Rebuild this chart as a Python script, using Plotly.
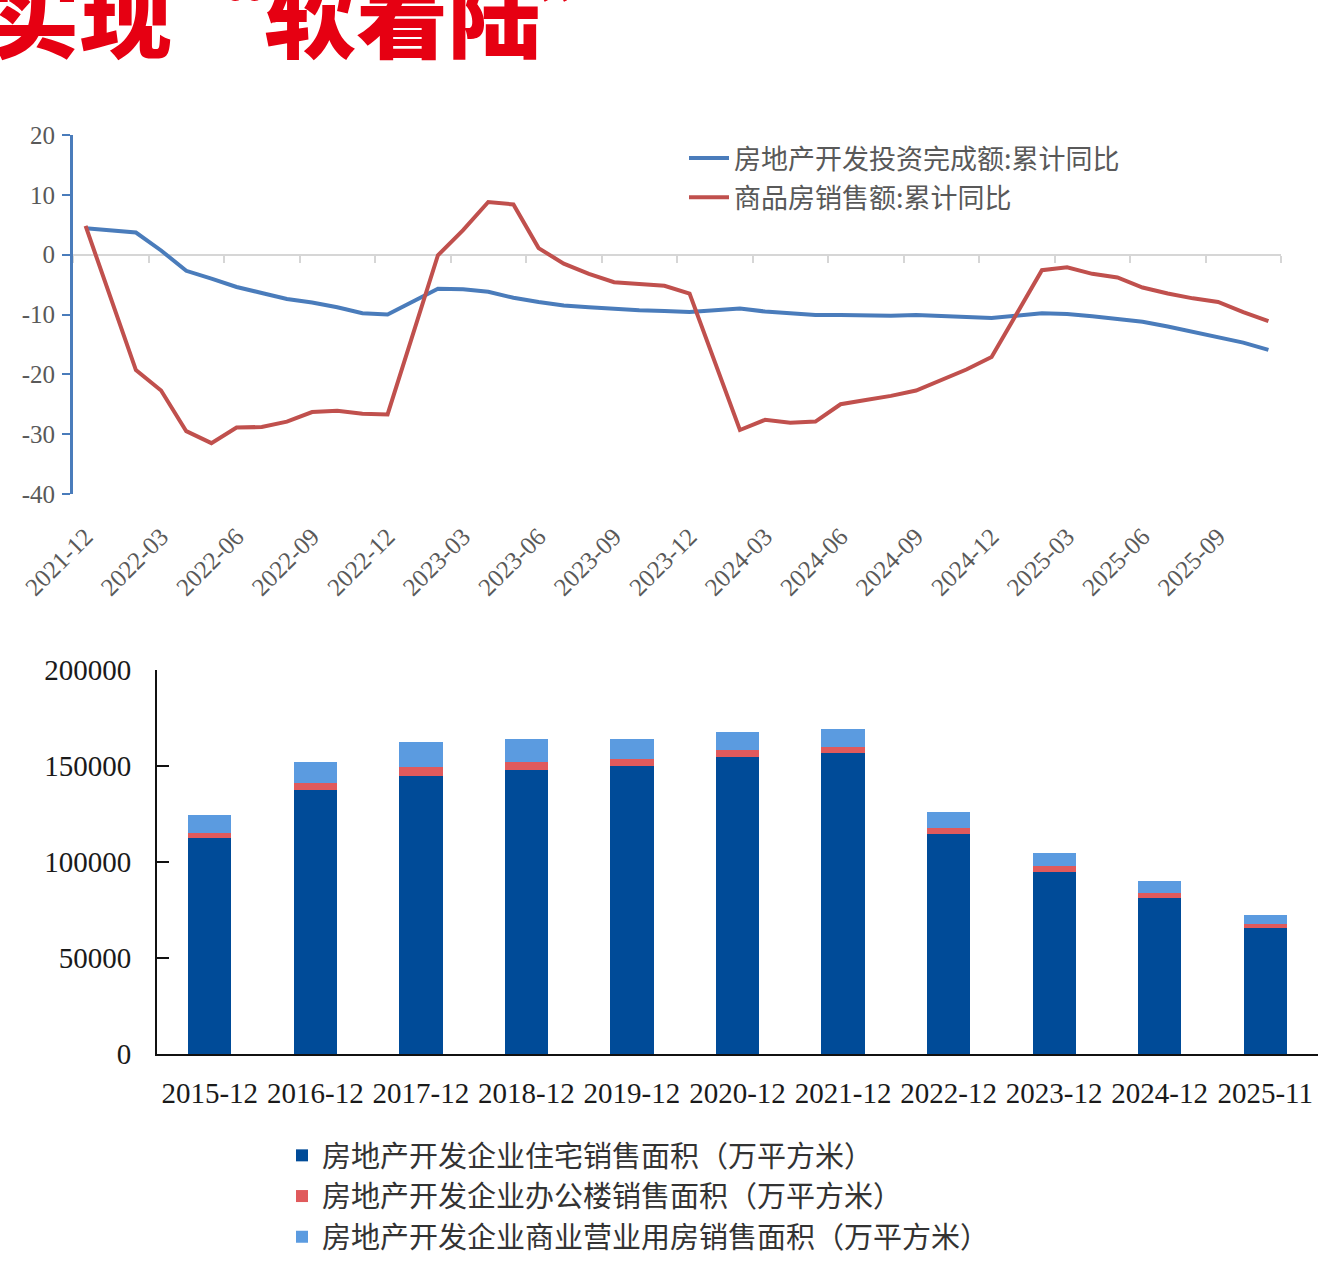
import plotly.graph_objects as go

W, H = 1344, 1268

# ---------------- data: line chart ----------------
months = ["2021-12"] + [f"{y}-{m:02d}" for y in (2022, 2023, 2024, 2025) for m in range(1, 13)]
months = months[:48]  # 2021-12 ... 2025-11

invest_name = "房地产开发投资完成额:累计同比"
invest_yoy = [4.4,
              None, 3.7, 0.7, -2.7, -4.0, -5.4, -6.4, -7.4, -8.0, -8.8, -9.8, -10.0,
              None, -5.7, -5.8, -6.2, -7.2, -7.9, -8.5, -8.8, -9.1, -9.3, -9.4, -9.6,
              None, -9.0, -9.5, -9.8, -10.1, -10.1, -10.2, -10.2, -10.1, -10.3, -10.4, -10.6,
              None, -9.8, -9.9, -10.3, -10.7, -11.2, -12.0, -12.9, -13.9, -14.7, -15.9]

sales_name = "商品房销售额:累计同比"
sales_yoy = [4.8,
             None, -19.3, -22.7, -29.5, -31.5, -28.9, -28.8, -27.9, -26.3, -26.1, -26.6, -26.7,
             None, -0.1, 4.1, 8.8, 8.4, 1.1, -1.5, -3.2, -4.6, -4.9, -5.2, -6.5,
             None, -29.3, -27.6, -28.1, -27.9, -25.0, -24.3, -23.6, -22.7, -20.9, -19.2, -17.1,
             None, -2.6, -2.1, -3.2, -3.8, -5.5, -6.5, -7.3, -7.9, -9.6, -11.1]

line_yticks = [-40, -30, -20, -10, 0, 10, 20]
line_yticktext = ["-40", "-30", "-20", "-10", "0", "10", "20"]

# ---------------- data: bar chart ----------------
years = ["2015-12", "2016-12", "2017-12", "2018-12", "2019-12", "2020-12",
         "2021-12", "2022-12", "2023-12", "2024-12", "2025-11"]
res_name = "房地产开发企业住宅销售面积（万平方米）"
office_name = "房地产开发企业办公楼销售面积（万平方米）"
biz_name = "房地产开发企业商业营业用房销售面积（万平方米）"
residential = [112412, 137540, 144789, 147929, 150144, 154878, 156532, 114631, 94796, 81000, 65500]
office = [2913, 3826, 4756, 4363, 3723, 3334, 3375, 3206, 3000, 2600, 2250]
business = [9247, 10812, 12838, 11971, 10172, 9288, 9366, 8000, 7000, 6700, 4650]

bar_yticks = [0, 50000, 100000, 150000, 200000]
bar_yticktext = ["0", "50000", "100000", "150000", "200000"]

title_text = "实现“软着陆”"

# ---------------- styles ----------------
BLUE = "#4a7cbb"
RED = "#c0504d"
C_RES = "#004b98"
C_OFF = "#e05a5c"
C_BIZ = "#5b9be0"
SERIF = "Liberation Serif, Times New Roman, serif"
CJK = "Noto Sans CJK SC, Noto Sans, sans-serif"

def px_x(p):
    return p / W

def px_y(p):
    return 1 - p / H

fig = go.Figure()

fig.add_trace(go.Scatter(x=months, y=invest_yoy, name=invest_name, mode="lines",
                         line=dict(color=BLUE, width=4), connectgaps=True,
                         xaxis="x", yaxis="y", legend="legend", legendgroup="a"))
fig.add_trace(go.Scatter(x=months, y=sales_yoy, name=sales_name, mode="lines",
                         line=dict(color=RED, width=4), connectgaps=True,
                         xaxis="x", yaxis="y", legend="legend", legendgroup="b"))
# carrier for the zero-level axis (no visible marks)
fig.add_trace(go.Scatter(x=months, y=[None] * len(months), mode="lines", showlegend=False,
                         hoverinfo="skip", xaxis="x3", yaxis="y"))

fig.add_trace(go.Bar(x=years, y=residential, name=res_name, marker_color=C_RES,
                     marker_line_width=0, xaxis="x2", yaxis="y2", legend="legend2", legendgroup="r"))
fig.add_trace(go.Bar(x=years, y=office, name=office_name, marker_color=C_OFF,
                     marker_line_width=0, xaxis="x2", yaxis="y2", legend="legend2", legendgroup="o"))
fig.add_trace(go.Bar(x=years, y=business, name=biz_name, marker_color=C_BIZ,
                     marker_line_width=0, xaxis="x2", yaxis="y2", legend="legend2", legendgroup="c"))

line_dom_y = [px_y(494), px_y(135)]
zero_pos = line_dom_y[0] + (0 - (-40)) / 60 * (line_dom_y[1] - line_dom_y[0])

fig.update_layout(
    width=W, height=H,
    margin=dict(l=0, r=0, t=0, b=0, autoexpand=False),
    paper_bgcolor="white", plot_bgcolor="white",
    barmode="stack", bargap=0.59,
    showlegend=True,
    xaxis=dict(domain=[px_x(73), px_x(1281)], anchor="y", type="category",
               categoryorder="array", categoryarray=months, range=[-0.5, 47.5],
               tickmode="array", tickvals=months[::3], tickangle=-45,
               showline=False, ticks="", showgrid=False, zeroline=False,
               ticklabelstandoff=22,
               tickfont=dict(family=SERIF, size=25, color="#595959"), automargin=False),
    xaxis3=dict(domain=[px_x(73), px_x(1281)], overlaying="x", anchor="free", position=zero_pos,
                type="category", categoryorder="array", categoryarray=months, range=[-0.5, 47.5],
                tickmode="linear", tick0=0, dtick=3, tickson="boundaries",
                showline=True, linecolor="#d6d6d6", linewidth=2,
                ticks="outside", ticklen=7, tickwidth=2, tickcolor="#d6d6d6",
                showticklabels=False, showgrid=False, zeroline=False, layer="below traces"),
    yaxis=dict(domain=line_dom_y, anchor="x", range=[-40, 20],
               tickmode="array", tickvals=line_yticks, ticktext=line_yticktext,
               showline=True, linecolor=BLUE, linewidth=3,
               ticks="outside", ticklen=8, tickwidth=2, tickcolor=BLUE,
               showgrid=False, zeroline=False, ticklabelstandoff=2,
               tickfont=dict(family=SERIF, size=25, color="#595959"), automargin=False),
    xaxis2=dict(domain=[px_x(157), px_x(1318)], anchor="y2", type="category",
                showline=True, linecolor="#111111", linewidth=2, ticks="",
                showgrid=False, zeroline=False, ticklabelstandoff=12,
                tickfont=dict(family=SERIF, size=29, color="#1a1a1a"), automargin=False),
    yaxis2=dict(domain=[px_y(1054), px_y(670)], anchor="x2", range=[0, 200000],
                tickmode="array", tickvals=bar_yticks, ticktext=bar_yticktext,
                showline=True, linecolor="#111111", linewidth=2,
                ticks="inside", ticklen=12, tickwidth=2, tickcolor="#111111",
                showgrid=False, zeroline=False, ticklabelstandoff=18,
                tickfont=dict(family=SERIF, size=29, color="#1a1a1a"), automargin=False),
    legend=dict(x=px_x(684), y=px_y(134), xanchor="left", yanchor="top",
                bgcolor="rgba(0,0,0,0)", traceorder="grouped", tracegroupgap=1,
                font=dict(family=CJK, size=27, color="#595959"), itemwidth=40),
    legend2=dict(x=px_x(282), y=px_y(1130), xanchor="left", yanchor="top",
                 bgcolor="rgba(0,0,0,0)", traceorder="grouped", tracegroupgap=0,
                 font=dict(family=CJK, size=29, color="#333333"), itemwidth=30),
    annotations=[dict(text=title_text, xref="paper", yref="paper",
                      x=px_x(-14), y=px_y(11), xanchor="left", yanchor="middle",
                      showarrow=False,
                      font=dict(family=CJK, size=92, color="#e60012", weight=900))],
)

fig.write_html("out.html")
